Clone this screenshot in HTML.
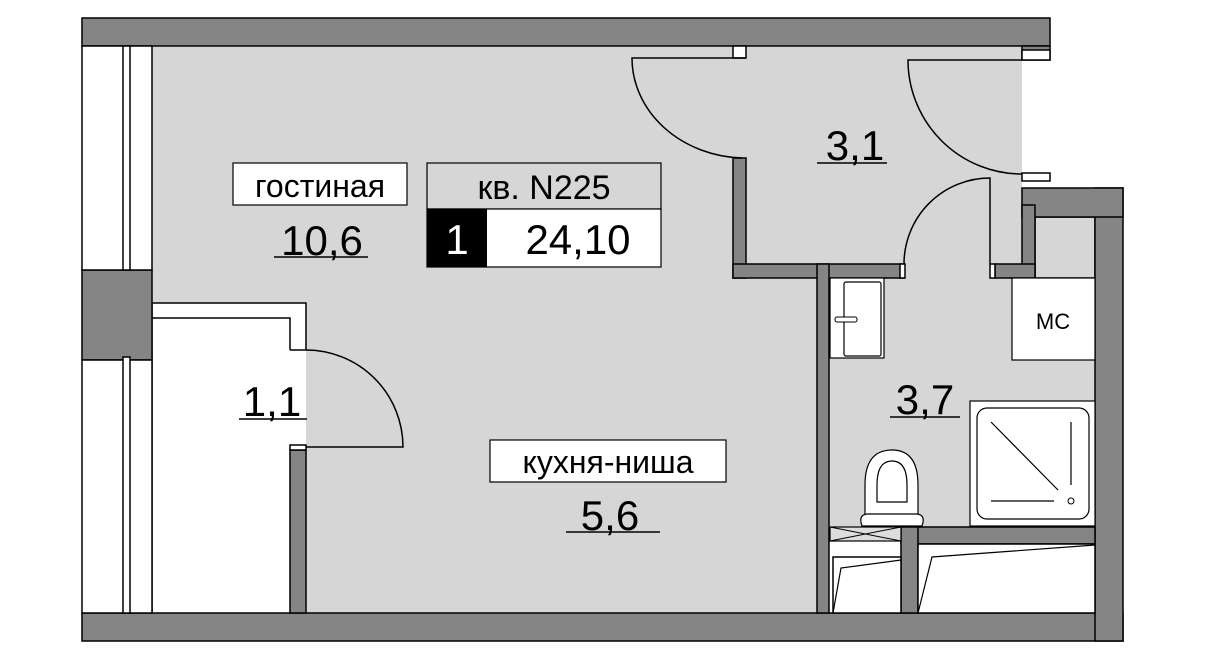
<!DOCTYPE html>
<html><head><meta charset="utf-8"><style>
html,body{margin:0;padding:0;background:#fff}
svg{display:block}
text{font-family:"Liberation Sans",sans-serif;fill:#000}
</style></head><body>
<svg width="1224" height="656" viewBox="0 0 1224 656" xmlns="http://www.w3.org/2000/svg">
<rect width="1224" height="656" fill="#fff"/>
<!-- floor light gray -->
<rect x="152" y="46" width="666" height="567" fill="#d6d6d6"/>
<rect x="746" y="46" width="276" height="218" fill="#d6d6d6"/>
<rect x="829" y="264" width="266" height="263" fill="#d6d6d6"/>
<rect x="1035" y="217" width="60" height="61" fill="#d6d6d6" stroke="#000" stroke-width="1.5"/>
<!-- closet -->
<rect x="152" y="303" width="154" height="310" fill="#fff"/>
<path d="M152 303 H306 V350 M152 318 H290 V350 M290 350 H306 M290 450 H306" fill="none" stroke="#000" stroke-width="1.5"/>
<line x1="152" y1="303" x2="152" y2="613" stroke="#000" stroke-width="1.5"/>
<!-- outer walls -->
<g fill="#858585" stroke="#000" stroke-width="1.5">
<rect x="82" y="18" width="968" height="28"/>
<rect x="82" y="270" width="70" height="90"/>
<rect x="82" y="613" width="1041" height="28"/>
<rect x="1095" y="188" width="28" height="453"/>
<rect x="1022" y="188" width="101" height="29"/>
<rect x="1022" y="205" width="13" height="73"/>
<rect x="995" y="264" width="40" height="14"/>
<rect x="733" y="158" width="13" height="120"/>
<rect x="733" y="264" width="171" height="14"/>
<rect x="817" y="264" width="12" height="349"/>
<rect x="901" y="527" width="194" height="17"/>
<rect x="901" y="527" width="17" height="86"/>
<rect x="290" y="450" width="16" height="163"/>
<rect x="1022" y="46" width="28" height="14"/>
</g>
<!-- left windows -->
<rect x="82" y="46" width="70" height="224" fill="#fff" stroke="#000" stroke-width="1.5"/>
<rect x="123" y="46" width="7" height="224" fill="#fff" stroke="#000" stroke-width="1.5"/>
<rect x="82" y="360" width="70" height="253" fill="#fff" stroke="#000" stroke-width="1.5"/>
<rect x="123" y="357" width="7" height="256" fill="#fff" stroke="#000" stroke-width="1.5"/>
<path d="M306 447 H403 A97 97 0 0 0 306 350" fill="none" stroke="#000" stroke-width="1.5"/>
<!-- frames -->
<g fill="#fff" stroke="#000" stroke-width="1.5">
<rect x="290" y="445" width="16" height="5"/>
<rect x="733" y="46" width="13" height="12"/>
<rect x="1022" y="50" width="28" height="10"/>
<rect x="1022" y="173" width="28" height="8"/>
<rect x="900" y="264" width="5" height="14"/>
<rect x="990" y="264" width="5" height="14"/>
</g>
<!-- doors -->
<path d="M746 58 H632 A114 100 0 0 0 742 158" fill="none" stroke="#000" stroke-width="1.5"/>
<path d="M1022 60 H908 A114 114 0 0 0 1022 174" fill="none" stroke="#000" stroke-width="1.5"/>
<path d="M990 264 V178 A86 86 0 0 0 904 264" fill="none" stroke="#000" stroke-width="1.5"/>
<!-- bathroom fixtures -->
<rect x="830" y="278" width="54" height="80" fill="#fff" stroke="#000" stroke-width="1.2"/>
<rect x="844" y="282" width="37" height="74" rx="2" fill="#fff" stroke="#000" stroke-width="1.2"/>
<rect x="835" y="317" width="22" height="5" rx="2" fill="#fff" stroke="#000"/>
<rect x="1012" y="278" width="83" height="82" fill="#fff" stroke="#000" stroke-width="1.2"/>
<text x="1053" y="329" font-size="22" text-anchor="middle">МС</text>
<rect x="970" y="401" width="125" height="125" fill="#fff" stroke="#000" stroke-width="1.2"/>
<rect x="977" y="408" width="112" height="111" rx="10" fill="none" stroke="#000" stroke-width="1.2"/>
<path d="M991 422 L1058 490 M1071 422 V485 M991 501 H1054" stroke="#000" stroke-width="1.2"/>
<circle cx="1071" cy="501" r="3" fill="#fff" stroke="#000"/>
<path d="M865 517 V485 Q865 450 892 450 Q918 450 918 485 V517 Z" fill="#fff" stroke="#000" stroke-width="1.2"/>
<path d="M877 502 V485 Q877 461 892 461 Q907 461 907 485 V502 Z" fill="none" stroke="#000" stroke-width="1.2"/>
<path d="M862 526 Q858 515 867 514 H917 Q926 515 922 526 Z" fill="#fff" stroke="#000" stroke-width="1.2"/>
<rect x="830" y="527" width="71" height="14" fill="#ddd" stroke="#000" stroke-width="1.2"/>
<path d="M830 527 L901 541 M830 541 L901 527" stroke="#000"/>
<rect x="833" y="557" width="68" height="56" fill="#fff" stroke="#000" stroke-width="1.5"/>
<path d="M833 613 L841 568 L901 560" fill="none" stroke="#000" stroke-width="1.2"/>
<rect x="918" y="544" width="177" height="69" fill="#fff" stroke="#000" stroke-width="1.5"/>
<path d="M918 613 L932 557 L1095 545" fill="none" stroke="#000" stroke-width="1.2"/>
<!-- labels -->
<rect x="233" y="163" width="174" height="42" fill="#fff" stroke="#000" stroke-width="1.2"/>
<text x="320" y="197" font-size="32" text-anchor="middle">гостиная</text>
<text x="322" y="255" font-size="42" text-anchor="middle">10,6</text>
<line x1="274" y1="257" x2="368" y2="257" stroke="#000" stroke-width="1.5"/>
<rect x="427" y="163" width="234" height="46" fill="#d6d6d6" stroke="#000" stroke-width="1.2"/>
<text x="544" y="199" font-size="34" text-anchor="middle">кв. N225</text>
<rect x="427" y="209" width="234" height="58" fill="#fff" stroke="#000" stroke-width="1.2"/>
<rect x="427" y="209" width="60" height="58" fill="#000"/>
<text x="457" y="254" font-size="42" text-anchor="middle" style="fill:#fff">1</text>
<text x="578" y="254" font-size="42" text-anchor="middle">24,10</text>
<text x="855" y="160" font-size="42" text-anchor="middle">3,1</text>
<line x1="817" y1="163" x2="887" y2="163" stroke="#000" stroke-width="1.5"/>
<text x="925" y="414" font-size="42" text-anchor="middle">3,7</text>
<line x1="890" y1="417" x2="960" y2="417" stroke="#000" stroke-width="1.5"/>
<text x="272" y="416" font-size="42" text-anchor="middle">1,1</text>
<line x1="239" y1="419" x2="307" y2="419" stroke="#000" stroke-width="1.5"/>
<rect x="490" y="440" width="236" height="42" fill="#fff" stroke="#000" stroke-width="1.2"/>
<text x="608" y="473" font-size="32" text-anchor="middle">кухня-ниша</text>
<text x="610" y="530" font-size="42" text-anchor="middle">5,6</text>
<line x1="566" y1="532" x2="660" y2="532" stroke="#000" stroke-width="1.5"/>
</svg>
</body></html>
